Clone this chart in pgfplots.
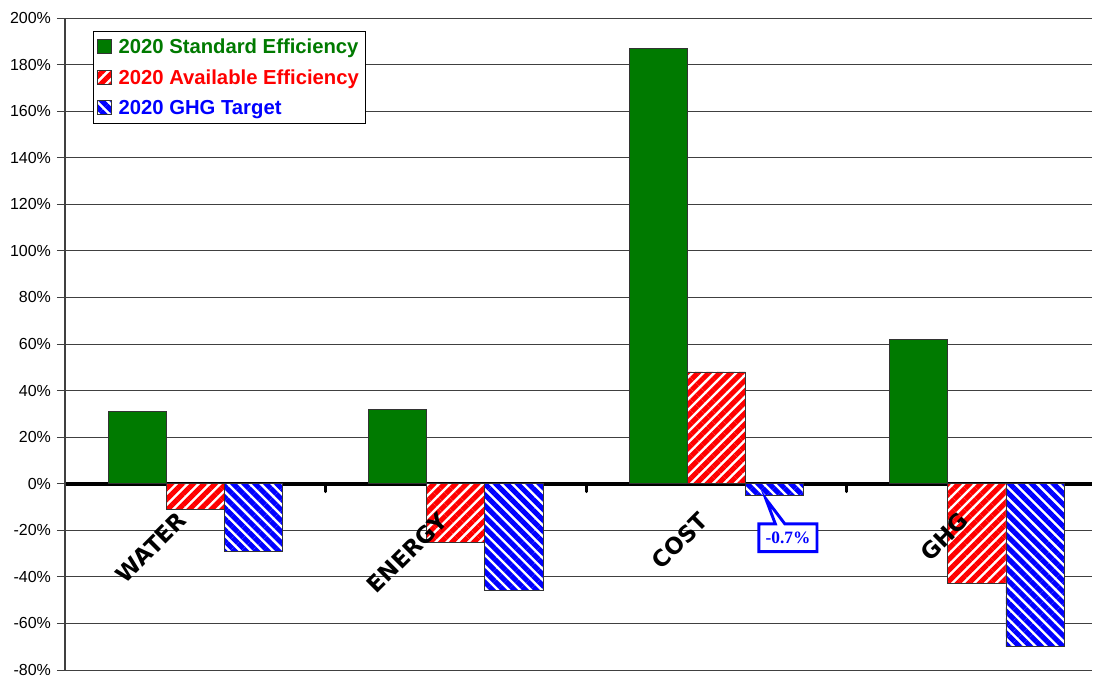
\documentclass[border=0pt]{standalone}
\usepackage{fontspec}
\setmainfont{Liberation Sans}
\newfontfamily\seriffont{Liberation Serif}
\newfontfamily\heavyfont{DejaVu Sans}
\usepackage{pgfplots}
\pgfplotsset{compat=1.18}
\usetikzlibrary{patterns.meta,shapes.callouts}
\definecolor{sgreen}{RGB}{0,122,0}

\begin{document}
\begin{tikzpicture}
\useasboundingbox (0pt,0pt) rectangle (822pt,507.75pt);
\begin{axis}[
  at={(48.75pt,5.25pt)}, anchor=south west,
  scale only axis, width=770.25pt, height=489pt,
  ybar=0pt, bar width=0.223,
  xmin=-0.5, xmax=3.442, ymin=-80, ymax=200,
  axis x line*=middle, axis y line*=left,
  x axis line style={line width=3pt},
  y axis line style={black!75, line width=0.8pt},
  xtick={-0.5,0.5,1.5,2.5}, xticklabels={},
  xtick align=outside, xtick style={line width=2.2pt, black, line cap=round},
  ytick={-80,-60,...,200}, ytick align=outside,
  ytick style={black!75, line width=0.6pt, line cap=butt},
  major tick length=6pt,
  yticklabel={\pgfmathprintnumber{\tick}\%},
  /pgf/number format/assume math mode=true,
  yticklabel style={font=\fontsize{12}{14}\selectfont, xshift=-1pt},
  ymajorgrids, grid style={black!75, line width=0.6pt},
  legend style={at={(0.027,0.98)}, anchor=north west, draw=black, line width=0.6pt,
    font=\fontsize{15.2}{18}\selectfont\bfseries, row sep=6.5pt, column sep=3pt,
    inner xsep=3pt, inner ysep=3.5pt, cells={anchor=west}},
  legend image code/.code={\draw[#1, line width=0.6pt] (0pt,-5pt) rectangle (10.5pt,5.5pt);},
]
\addplot[draw=black!80, line width=0.6pt, fill=sgreen]
  coordinates {(0,31) (1,32) (2,187) (3,62)};
\addlegendentry{\textcolor{sgreen}{2020 Standard Efficiency}}
\addplot[draw=black!80, line width=0.6pt, fill=white,
  postaction={pattern={Lines[angle=45,distance=5.8pt,line width=3.8pt]}, pattern color=red}]
  coordinates {(0,-11) (1,-25) (2,48) (3,-43)};
\addlegendentry{\textcolor{red}{2020 Available Efficiency}}
\addplot[draw=black!80, line width=0.6pt, fill=white,
  postaction={pattern={Lines[angle=-45,distance=5.8pt,line width=3.8pt]}, pattern color=blue}]
  coordinates {(0,-29) (1,-46) (2,-5.2) (3,-70)};
\addlegendentry{\textcolor{blue}{2020 GHG Target}}

\foreach \c/\lab in {0/WATER,1/ENERGY,2/COST,3/GHG}{
  \edef\tmp{\noexpand\node[xshift=-14pt, yshift=-20pt, rotate=45, anchor=north east, inner sep=0pt,
    font=\noexpand\heavyfont\noexpand\bfseries\noexpand\fontsize{17}{19}\noexpand\selectfont]
    at (axis cs:\c,0) {\lab};}
  \tmp
}
\node[rectangle callout, draw=blue, line width=2.2pt, fill=white, text=blue,
  font=\seriffont\bfseries\fontsize{13}{15}\selectfont, inner xsep=5pt, inner ysep=6pt,
  callout absolute pointer={(axis cs:2.19,-6.5)}] at (axis cs:2.275,-23.2) {-0.7\%};
\end{axis}
\end{tikzpicture}
\end{document}
